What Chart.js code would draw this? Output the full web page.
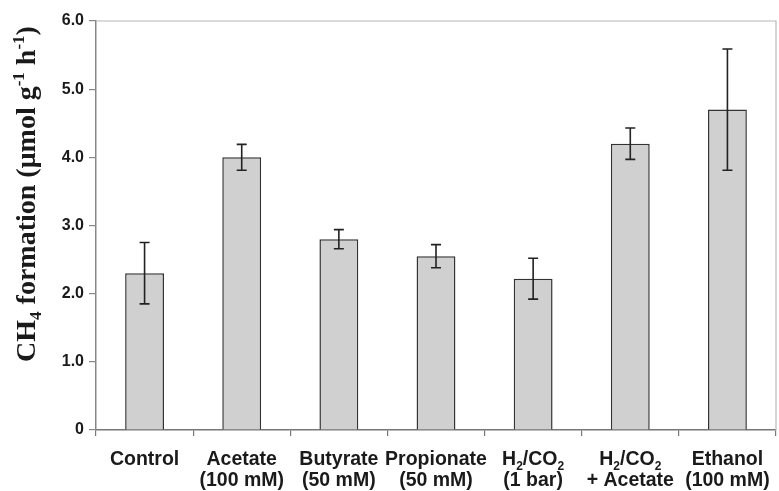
<!DOCTYPE html>
<html>
<head>
<meta charset="utf-8">
<script src="https://cdn.jsdelivr.net/npm/chart.js@4"></script>
<style>
  html, body { margin: 0; padding: 0; background: #fff; }
  #wrap { width: 779px; height: 491px; }
</style>
</head>
<body>
<div id="wrap"><canvas id="myChart" width="779" height="491"></canvas></div>
<script>
// _{..} = subscript, ^{..} = superscript, \n = line break
const categories = [
    'Control',
    'Acetate\n(100 mM)',
    'Butyrate\n(50 mM)',
    'Propionate\n(50 mM)',
    'H_{2}/CO_{2}\n(1 bar)',
    'H_{2}/CO_{2}\n+ Acetate',
    'Ethanol\n(100 mM)'
];
const ch4Rate = [2.30, 4.00, 2.80, 2.55, 2.22, 4.20, 4.70];
const ch4Err = [0.45, 0.19, 0.14, 0.17, 0.30, 0.23, 0.89];
const yTicks = [0, 1, 2, 3, 4, 5, 6];
const yTitle = 'CH_{4} formation (\u03bcmol g^{-1} h^{-1})';

// split a string like 'H_{2}/CO_{2}' into pieces
function parseRich(str) {
    const parts = [];
    const re = /([_^])\{([^}]*)\}/g;
    let last = 0, m;
    while ((m = re.exec(str)) !== null) {
        if (m.index > last) parts.push({ text: str.slice(last, m.index), kind: 'n' });
        parts.push({ text: m[2], kind: m[1] === '_' ? 'sub' : 'sup' });
        last = re.lastIndex;
    }
    if (last < str.length) parts.push({ text: str.slice(last), kind: 'n' });
    return parts;
}

function drawRich(ctx, str, cx, baseY, f) {
    const parts = parseRich(str);
    const fontFor = (p) => p.kind === 'n' ? f.main : f.small;
    let total = 0;
    parts.forEach(p => { ctx.font = fontFor(p); p.w = ctx.measureText(p.text).width; total += p.w; });
    let x = cx - total / 2;
    ctx.textAlign = 'left';
    ctx.textBaseline = 'alphabetic';
    parts.forEach(p => {
        ctx.font = fontFor(p);
        let dy = 0;
        if (p.kind === 'sub') dy = f.subShift;
        if (p.kind === 'sup') dy = -f.supShift;
        ctx.fillText(p.text, x, baseY + dy);
        x += p.w;
    });
}

const extras = {
    id: 'extras',
    afterDraw(chart) {
        const ctx = chart.ctx;
        const area = chart.chartArea;
        const x = chart.scales.x;
        const y = chart.scales.y;
        ctx.save();

        // frame on top and right
        ctx.strokeStyle = '#b8b8b8';
        ctx.lineWidth = 1.2;
        ctx.beginPath();
        ctx.moveTo(area.left, area.top);
        ctx.lineTo(area.right, area.top);
        ctx.lineTo(area.right, area.bottom);
        ctx.stroke();

        // error bars
        const meta = chart.getDatasetMeta(0);
        ctx.strokeStyle = '#222';
        ctx.lineWidth = 1.6;
        meta.data.forEach((bar, i) => {
            const top = y.getPixelForValue(ch4Rate[i] + ch4Err[i]);
            const bot = y.getPixelForValue(ch4Rate[i] - ch4Err[i]);
            ctx.beginPath();
            ctx.moveTo(bar.x, top);
            ctx.lineTo(bar.x, bot);
            ctx.moveTo(bar.x - 5, top);
            ctx.lineTo(bar.x + 5, top);
            ctx.moveTo(bar.x - 5, bot);
            ctx.lineTo(bar.x + 5, bot);
            ctx.stroke();
        });

        // category labels
        ctx.fillStyle = '#1a1a1a';
        const labFont = {
            main: 'bold 19.5px "Liberation Sans", Arial, sans-serif',
            small: 'bold 12px "Liberation Sans", Arial, sans-serif',
            subShift: 5, supShift: 8
        };
        categories.forEach((c, i) => {
            const cx = x.getPixelForValue(i);
            c.split('\n').forEach((line, k) => {
                drawRich(ctx, line, cx, area.bottom + 35 + k * 21, labFont);
            });
        });

        // y axis title
        ctx.translate(35, 194);
        ctx.rotate(-Math.PI / 2);
        ctx.fillStyle = '#1a1a1a';
        drawRich(ctx, yTitle, 0, 0, {
            main: 'bold 28px "Liberation Serif", "Times New Roman", serif',
            small: 'bold 17px "Liberation Serif", "Times New Roman", serif',
            subShift: 6, supShift: 11
        });
        ctx.restore();
    }
};

const ctx = document.getElementById('myChart').getContext('2d');
const myChart = new Chart(ctx, {
    type: 'bar',
    data: {
        labels: categories,
        datasets: [{
            data: ch4Rate,
            backgroundColor: '#d0d0d0',
            borderColor: '#333',
            borderWidth: 1.5,
            categoryPercentage: 0.8,
            barPercentage: 0.5
        }]
    },
    options: {
        responsive: false,
        animation: false,
        layout: { padding: { top: 21, right: 3, left: 0, bottom: 0 } },
        plugins: {
            legend: { display: false },
            tooltip: { enabled: false }
        },
        scales: {
            x: {
                grid: { drawOnChartArea: false, color: '#777', tickLength: 6, lineWidth: 1.2 },
                border: { color: '#777', width: 1.5 },
                ticks: { display: false },
                afterFit(scale) { scale.height = 61; }
            },
            y: {
                min: 0,
                max: 6,
                afterBuildTicks(scale) {
                    scale.ticks = yTicks.map(v => ({ value: v }));
                },
                grid: { drawOnChartArea: false, color: '#888', tickLength: 7, lineWidth: 1.2 },
                border: { color: '#888', width: 1.5 },
                ticks: {
                    padding: 5,
                    color: '#1a1a1a',
                    font: { family: '"Liberation Sans", Arial, sans-serif', size: 16, weight: 'bold' },
                    callback: (v) => v === 0 ? '0' : v.toFixed(1)
                },
                afterFit(scale) { scale.width = 96; }
            }
        }
    },
    plugins: [extras]
});
</script>
</body>
</html>
